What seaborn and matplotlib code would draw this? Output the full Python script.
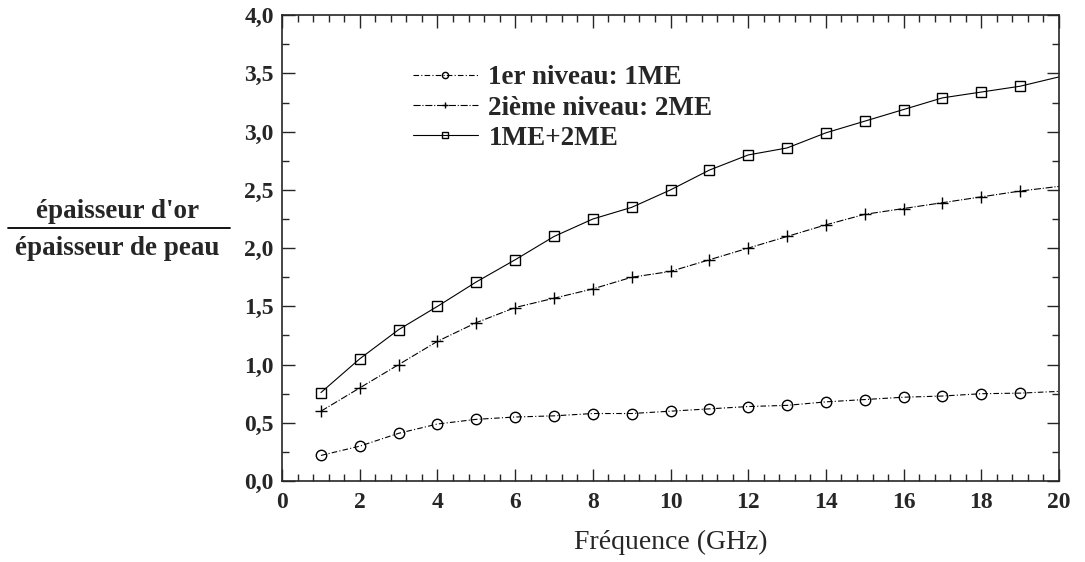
import numpy as np
import pandas as pd
import seaborn as sns
import matplotlib.pyplot as plt
from matplotlib.ticker import MultipleLocator, AutoMinorLocator, FuncFormatter
from matplotlib.lines import Line2D

# donnees
freq = list(range(1, 21))
niveau1 = [0.22, 0.30, 0.41, 0.49, 0.53, 0.55, 0.56, 0.58, 0.58, 0.60,
           0.62, 0.64, 0.65, 0.68, 0.70, 0.72, 0.73, 0.75, 0.755, 0.77]
niveau2 = [0.60, 0.80, 1.00, 1.20, 1.36, 1.49, 1.57, 1.65, 1.75, 1.80,
           1.90, 2.00, 2.10, 2.20, 2.29, 2.34, 2.39, 2.44, 2.49, 2.53]
total = [0.76, 1.05, 1.30, 1.50, 1.71, 1.90, 2.10, 2.25, 2.35, 2.50,
         2.67, 2.80, 2.86, 2.99, 3.09, 3.19, 3.29, 3.34, 3.39, 3.47]
labels = ['1er niveau: 1ME', '2ième niveau: 2ME', '1ME+2ME']

sns.set_style('ticks')
plt.rcParams['font.family'] = ['Liberation Serif', 'DejaVu Serif']

fig = plt.figure(figsize=(10.85, 5.62), dpi=100)
ax = fig.add_axes([0.26, 0.144, 0.716, 0.829])

series = [(niveau1, 'o', 7.5, (0, (5, 2, 1, 2))),
          (niveau2, '+', 8, '-.'),
          (total, 's', 6.5, '-')]
for (vals, mk, ms, ls), lab in zip(series, labels):
    sns.lineplot(x=freq, y=vals, ax=ax, color='black', lw=0.8,
                 marker=mk, markersize=ms, markevery=list(range(19)),
                 markerfacecolor='none', markeredgecolor='black',
                 markeredgewidth=1.0, linestyle=ls, label=lab)

ax.set_xlim(0, 20)
ax.set_ylim(0, 4)
ax.xaxis.set_major_locator(MultipleLocator(2))
ax.xaxis.set_minor_locator(AutoMinorLocator(5))
ax.yaxis.set_major_locator(MultipleLocator(0.5))
ax.yaxis.set_minor_locator(AutoMinorLocator(2))
ax.yaxis.set_major_formatter(FuncFormatter(lambda v, p: f'{v:.1f}'.replace('.', ',')))
ax.tick_params(which='both', direction='in', top=True, right=True, width=1.0)
ax.tick_params(which='major', length=9, pad=6)
ax.tick_params(which='minor', length=5)
ax.tick_params(axis='y', labelsize=17)
ax.tick_params(axis='x', labelsize=17, pad=8)
for sp in ax.spines.values():
    sp.set_linewidth(1.2)
for t in ax.get_yticklabels() + ax.get_xticklabels():
    t.set_fontweight('bold')

ax.set_xlabel('Fréquence (GHz)', fontsize=20, labelpad=12)
ax.set_ylabel('')

leg = ax.legend(loc='upper left', bbox_to_anchor=(0.154, 0.916), frameon=False,
                fontsize=19.5, handlelength=2.4, handletextpad=0.4,
                labelspacing=0.2, borderaxespad=0, markerscale=0.6)
for t in leg.get_texts():
    t.set_fontweight('bold')

# label en fraction a gauche
fig.text(0.108, 0.612, "épaisseur d'or", ha='center', va='baseline',
         fontsize=19.5, fontweight='bold')
fig.text(0.108, 0.546, 'épaisseur de peau', ha='center', va='baseline',
         fontsize=19.5, fontweight='bold')
fig.add_artist(Line2D([0.007, 0.212], [0.594, 0.594], transform=fig.transFigure,
                      color='black', lw=1.3))

fig.savefig('out.png', dpi=100)
